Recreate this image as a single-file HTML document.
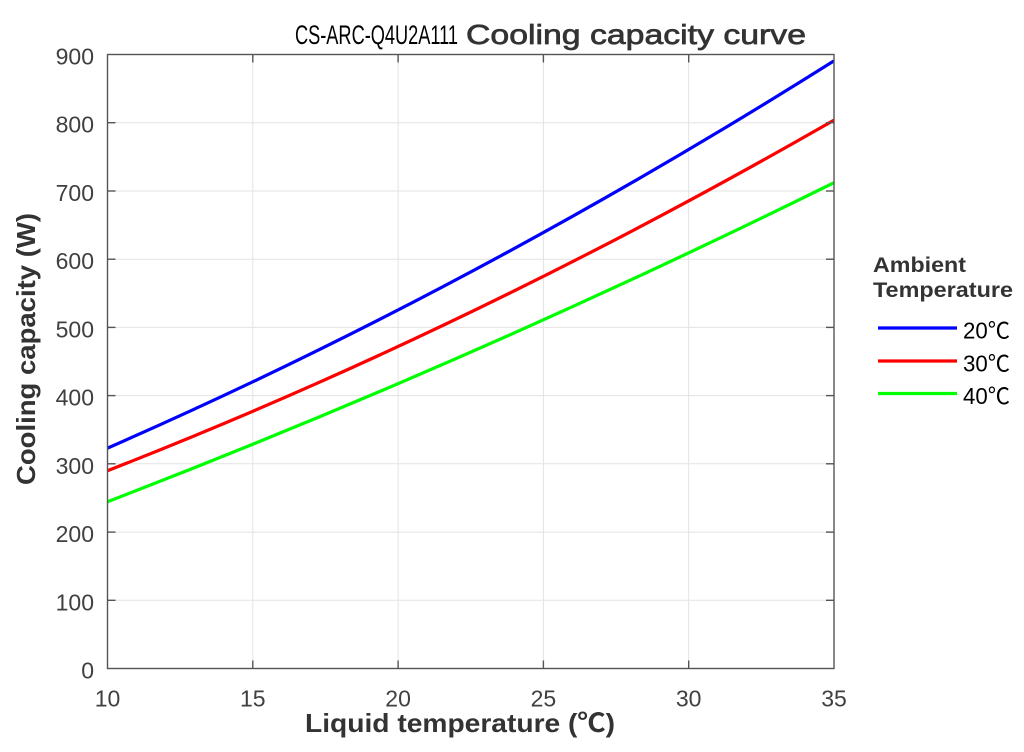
<!DOCTYPE html>
<html>
<head>
<meta charset="utf-8">
<style>
html,body{margin:0;padding:0;background:#fff;}
svg{display:block;}
</style>
</head>
<body>
<svg width="1024" height="752" viewBox="0 0 1024 752" xmlns="http://www.w3.org/2000/svg">
<rect width="1024" height="752" fill="#fff"/>
<defs>
<clipPath id="pc"><rect x="107.5" y="54.5" width="726.5" height="614"/></clipPath>
</defs>
<!-- grid -->
<g stroke="#e3e3e3" stroke-width="1">
<line x1="252.8" y1="54.5" x2="252.8" y2="668.5"/>
<line x1="398.1" y1="54.5" x2="398.1" y2="668.5"/>
<line x1="543.4" y1="54.5" x2="543.4" y2="668.5"/>
<line x1="688.7" y1="54.5" x2="688.7" y2="668.5"/>
<line x1="107.5" y1="600.3" x2="834" y2="600.3"/>
<line x1="107.5" y1="532.1" x2="834" y2="532.1"/>
<line x1="107.5" y1="463.8" x2="834" y2="463.8"/>
<line x1="107.5" y1="395.6" x2="834" y2="395.6"/>
<line x1="107.5" y1="327.4" x2="834" y2="327.4"/>
<line x1="107.5" y1="259.2" x2="834" y2="259.2"/>
<line x1="107.5" y1="191.0" x2="834" y2="191.0"/>
<line x1="107.5" y1="122.7" x2="834" y2="122.7"/>
</g>
<!-- curves -->
<g clip-path="url(#pc)" fill="none" stroke-width="3.2">
<path d="M107.5 448.1 Q470.75 289.4 834 60.9" stroke="#0000ff"/>
<path d="M107.5 470.7 Q470.75 328.8 834 120.1" stroke="#ff0000"/>
<path d="M107.5 501.7 Q470.75 362.1 834 182.7" stroke="#00ff00"/>
</g>
<!-- axes box -->
<rect x="107.5" y="54.5" width="726.5" height="614" fill="none" stroke="#555" stroke-width="1.4"/>
<!-- ticks -->
<g stroke="#555" stroke-width="1.4">
<line x1="252.8" y1="668.5" x2="252.8" y2="660.5"/><line x1="252.8" y1="54.5" x2="252.8" y2="62.5"/>
<line x1="398.1" y1="668.5" x2="398.1" y2="660.5"/><line x1="398.1" y1="54.5" x2="398.1" y2="62.5"/>
<line x1="543.4" y1="668.5" x2="543.4" y2="660.5"/><line x1="543.4" y1="54.5" x2="543.4" y2="62.5"/>
<line x1="688.7" y1="668.5" x2="688.7" y2="660.5"/><line x1="688.7" y1="54.5" x2="688.7" y2="62.5"/>
<line x1="107.5" y1="600.3" x2="115.5" y2="600.3"/><line x1="834" y1="600.3" x2="826" y2="600.3"/>
<line x1="107.5" y1="532.1" x2="115.5" y2="532.1"/><line x1="834" y1="532.1" x2="826" y2="532.1"/>
<line x1="107.5" y1="463.8" x2="115.5" y2="463.8"/><line x1="834" y1="463.8" x2="826" y2="463.8"/>
<line x1="107.5" y1="395.6" x2="115.5" y2="395.6"/><line x1="834" y1="395.6" x2="826" y2="395.6"/>
<line x1="107.5" y1="327.4" x2="115.5" y2="327.4"/><line x1="834" y1="327.4" x2="826" y2="327.4"/>
<line x1="107.5" y1="259.2" x2="115.5" y2="259.2"/><line x1="834" y1="259.2" x2="826" y2="259.2"/>
<line x1="107.5" y1="191.0" x2="115.5" y2="191.0"/><line x1="834" y1="191.0" x2="826" y2="191.0"/>
<line x1="107.5" y1="122.7" x2="115.5" y2="122.7"/><line x1="834" y1="122.7" x2="826" y2="122.7"/>
</g>
<!-- y tick labels -->
<g font-family="Liberation Sans, sans-serif" font-size="23" fill="#404040" text-anchor="end">
<text x="94" y="678.5">0</text>
<text x="94" y="610.3">100</text>
<text x="94" y="542.1">200</text>
<text x="94" y="473.8">300</text>
<text x="94" y="405.6">400</text>
<text x="94" y="337.4">500</text>
<text x="94" y="269.2">600</text>
<text x="94" y="201.0">700</text>
<text x="94" y="132.7">800</text>
<text x="94" y="64.5">900</text>
</g>
<!-- x tick labels -->
<g font-family="Liberation Sans, sans-serif" font-size="23" fill="#404040" text-anchor="middle">
<text x="107.5" y="706.5">10</text>
<text x="252.8" y="706.5">15</text>
<text x="398.1" y="706.5">20</text>
<text x="543.4" y="706.5">25</text>
<text x="688.7" y="706.5">30</text>
<text x="834" y="706.5">35</text>
</g>
<!-- title -->
<text x="295" y="44" font-family="Liberation Sans, sans-serif" font-size="27" fill="#000" textLength="163" lengthAdjust="spacingAndGlyphs">CS-ARC-Q4U2A111</text>
<text x="466" y="44" font-family="Liberation Sans, sans-serif" font-size="28" fill="#333" stroke="#333" stroke-width="0.7" textLength="340" lengthAdjust="spacingAndGlyphs">Cooling capacity curve</text>
<!-- x label -->
<text x="305" y="732" font-family="Liberation Sans, 'Noto Sans CJK SC', sans-serif" font-size="26" font-weight="bold" fill="#333" textLength="310" lengthAdjust="spacingAndGlyphs">Liquid temperature (℃)</text>
<!-- y label -->
<text transform="translate(35,485) rotate(-90)" x="0" y="0" font-family="Liberation Sans, sans-serif" font-size="26" font-weight="bold" fill="#333" textLength="272" lengthAdjust="spacingAndGlyphs">Cooling capacity (W)</text>
<!-- legend -->
<text x="873" y="272" font-family="Liberation Sans, sans-serif" font-size="21" font-weight="bold" fill="#333" textLength="93" lengthAdjust="spacingAndGlyphs">Ambient</text>
<text x="873" y="297" font-family="Liberation Sans, sans-serif" font-size="21" font-weight="bold" fill="#333" textLength="140" lengthAdjust="spacingAndGlyphs">Temperature</text>
<g stroke-width="3.2">
<line x1="878" y1="328" x2="957" y2="328" stroke="#0000ff"/>
<line x1="878" y1="361" x2="957" y2="361" stroke="#ff0000"/>
<line x1="878" y1="393.5" x2="957" y2="393.5" stroke="#00ff00"/>
</g>
<g font-family="Liberation Sans, 'Noto Sans CJK SC', sans-serif" font-size="23" fill="#000">
<text x="963" y="338.5" textLength="47" lengthAdjust="spacingAndGlyphs">20℃</text>
<text x="963" y="371.5" textLength="47" lengthAdjust="spacingAndGlyphs">30℃</text>
<text x="963" y="404" textLength="47" lengthAdjust="spacingAndGlyphs">40℃</text>
</g>
</svg>
</body>
</html>
